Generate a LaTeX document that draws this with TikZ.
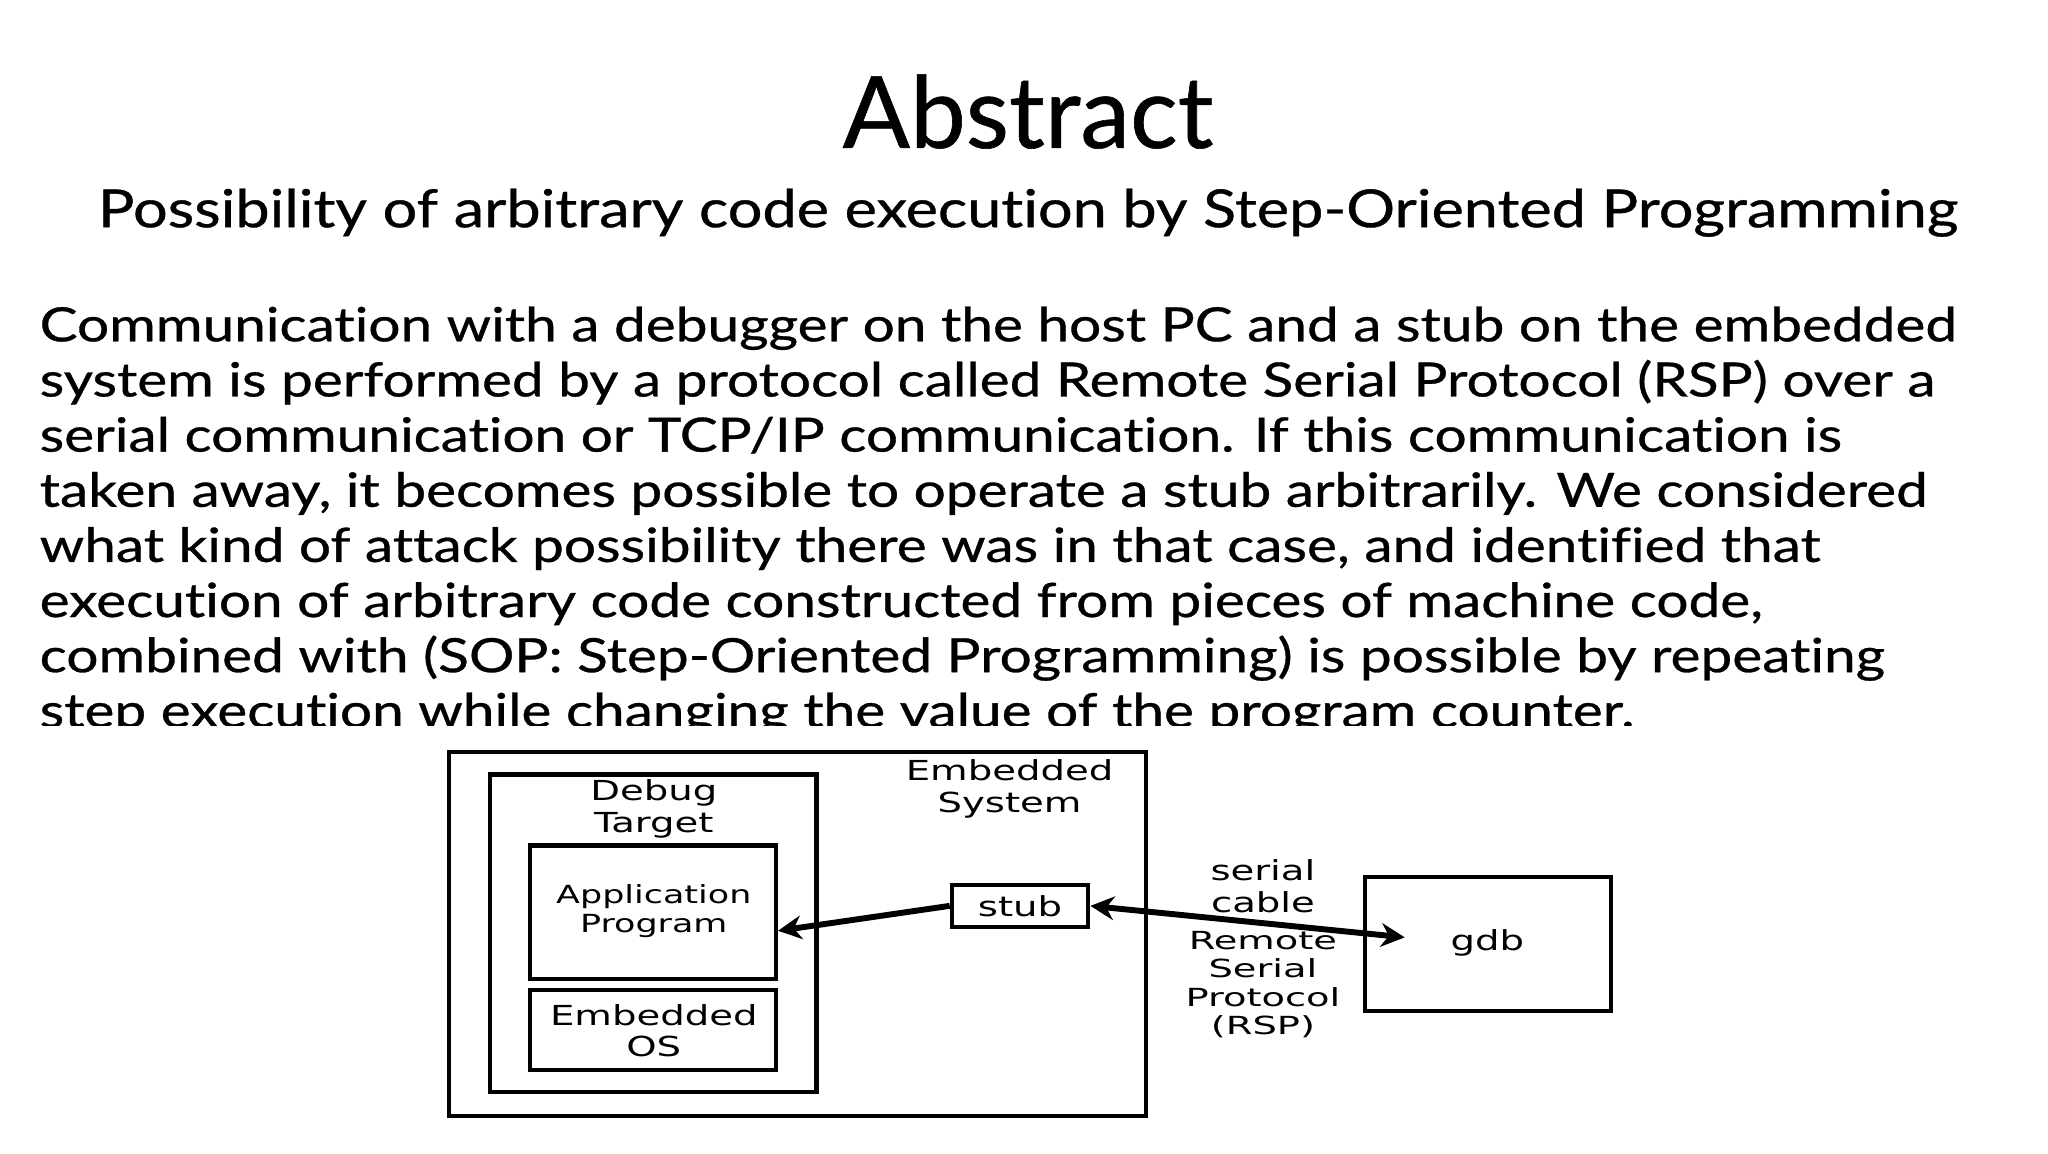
\documentclass[tikz,border=0pt]{standalone}
\usepackage{fontspec}
\setmainfont{Lato}[RawFeature={-liga}]
\newfontfamily\bodyf{Lato}[RawFeature={-liga},FakeBold=0.6]
\newfontfamily\dg{DejaVu Sans}
\usetikzlibrary{arrows.meta}
\begin{document}
\begin{tikzpicture}[x=1pt,y=-1pt,
  body/.style={anchor=base west,inner sep=0pt,xscale=1.2,font=\bodyf\fontsize{36}{36}\selectfont},
  bx/.style={draw,line width=3.2pt},
  dt/.style={font=\dg\fontsize{21}{24}\selectfont,align=center,inner sep=0pt,xscale=1.4},
  arr/.style={line width=4.5pt,-{Stealth[length=18pt,width=18pt]}}]
\useasboundingbox[fill=white] (0,0) rectangle (1560,879);
\node[font=\bodyf\fontsize{76}{76}\selectfont,inner sep=0pt] (t) at (783,85) {Abstract};
\node[font=\bodyf\fontsize{40}{40}\selectfont,inner sep=0pt,xscale=1.165] (st) at (783,162) {Possibility of arbitrary code execution by Step-Oriented Programming};
\node[body] (l1) at (30,260) {Communication with a debugger on the host PC and a stub on the embedded};
\node[body] (l2) at (30,302) {system is performed by a protocol called Remote Serial Protocol (RSP) over a};
\node[body] (l3) at (30,344) {serial communication or TCP/IP communication. If this communication is};
\node[body] (l4) at (30,386) {taken away, it becomes possible to operate a stub arbitrarily. We considered};
\node[body] (l5) at (30,428) {what kind of attack possibility there was in that case, and identified that};
\node[body] (l6) at (30,470) {execution of arbitrary code constructed from pieces of machine code,};
\node[body] (l7) at (30,512) {combined with (SOP: Step-Oriented Programming) is possible by repeating};
\node[body] (l8) at (30,554) {step execution while changing the value of the program counter.};
\fill[white] (0,553) rectangle (1560,879);
\node[bx,minimum width=531pt,minimum height=277pt,inner sep=0pt] (es) at (607.5,711.5) {};
\node[bx,minimum width=249pt,minimum height=242pt,inner sep=0pt] (dtg) at (497.5,711) {};
\node[bx,minimum width=187pt,minimum height=102pt,inner sep=0pt] (app) at (497.5,695) {};
\node[bx,minimum width=187pt,minimum height=61pt,inner sep=0pt] (os) at (497.5,784.5) {};
\node[bx,minimum width=104pt,minimum height=32pt,inner sep=0pt] (stub) at (777,690) {};
\node[bx,minimum width=187pt,minimum height=102pt,inner sep=0pt] (gdb) at (1133.5,719) {};
\node[dt] (eslab) at (769,601) {Embedded\\System};
\node[dt] (dtlab) at (498,616) {Debug\\Target};
\node[dt,font=\dg\fontsize{19}{22}\selectfont] (applab) at (498,694) {Application\\Program};
\node[dt] (oslab) at (498,785) {Embedded\\OS};
\node[dt] (stublab) at (777,690) {stub};
\node[dt] (gdblab) at (1133,718) {gdb};
\node[dt] (sc) at (962,675) {serial\\cable};
\node[dt,font=\dg\fontsize{19}{21.5}\selectfont,xscale=1.1] (rsp) at (962,750) {Remote\\Serial\\Protocol\\(RSP)};
\draw[arr] (stub.west) -- (app.east |- 0,709);
\coordinate (g) at (1070,714);
\draw[line width=4.5pt,{Stealth[length=18pt,width=18pt]}-{Stealth[length=18pt,width=18pt]}] (stub.east) -- (g);
\end{tikzpicture}
\end{document}
